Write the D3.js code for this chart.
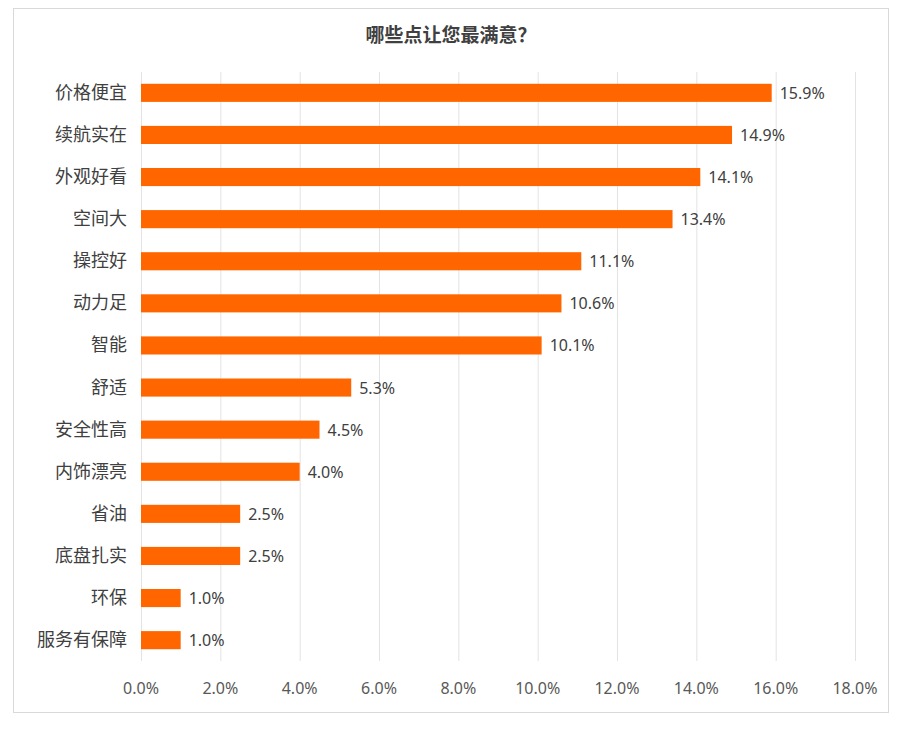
<!DOCTYPE html>
<html><head><meta charset="utf-8">
<script src="https://cdn.jsdelivr.net/npm/d3@7"></script>
<style>body{margin:0;background:#fff}</style>
</head><body>
<svg id="c" width="904" height="729"></svg>
<script>
var categories = ["价格便宜","续航实在","外观好看","空间大","操控好","动力足","智能","舒适","安全性高","内饰漂亮","省油","底盘扎实","环保","服务有保障"];
var values = [15.9,14.9,14.1,13.4,11.1,10.6,10.1,5.3,4.5,4.0,2.5,2.5,1.0,1.0];
var ticks = [0,2,4,6,8,10,12,14,16,18];

var svg = d3.select("#c");
var cjk = "'Noto Sans CJK SC', sans-serif";
svg.append("rect").attr("x",13.5).attr("y",8.5).attr("width",875).attr("height",704)
  .attr("fill","#fff").attr("stroke","#d9d9d9");
svg.append("text").attr("x",451).attr("y",42).attr("text-anchor","middle")
  .style("font-family",cjk).style("font-weight","bold").style("font-size","19px").attr("fill","#404040")
  .text("哪些点让您最满意？");

var x = d3.scaleLinear().domain([0,18]).range([141,855]);
var y = d3.scaleBand().domain(categories).range([72,661]).paddingInner(0.57).paddingOuter(0.28);

svg.append("g").selectAll("line").data(ticks).enter().append("line")
  .attr("x1",function(d){return x(d)+0.5;}).attr("x2",function(d){return x(d)+0.5;})
  .attr("y1",72).attr("y2",661).attr("stroke","#e3e3e3");

svg.append("g").selectAll("text").data(ticks).enter().append("text")
  .attr("x",function(d){return x(d);}).attr("y",694).attr("text-anchor","middle")
  .style("font-family","'Noto Sans', sans-serif").style("font-size","16px").attr("fill","#595959")
  .text(function(d){return d.toFixed(1)+"%";});

var rows = svg.append("g").selectAll("g").data(categories).enter().append("g");
rows.append("rect").attr("x",x(0)).attr("y",function(d){return y(d);})
  .attr("height",y.bandwidth()).attr("width",function(d,i){return x(values[i])-x(0);})
  .attr("fill","#ff6600");
rows.append("text").attr("x",function(d,i){return x(values[i])+8;})
  .attr("y",function(d){return y(d)+y.bandwidth()/2+6;})
  .style("font-family","'Noto Sans', sans-serif").style("font-size","16px").attr("fill","#404040")
  .text(function(d,i){return values[i].toFixed(1)+"%";});
rows.append("text").attr("x",127).attr("text-anchor","end")
  .attr("y",function(d){return y(d)+y.bandwidth()/2+6;})
  .style("font-family",cjk).style("font-size","18px").attr("fill","#404040")
  .text(function(d){return d;});
</script>
</body></html>
